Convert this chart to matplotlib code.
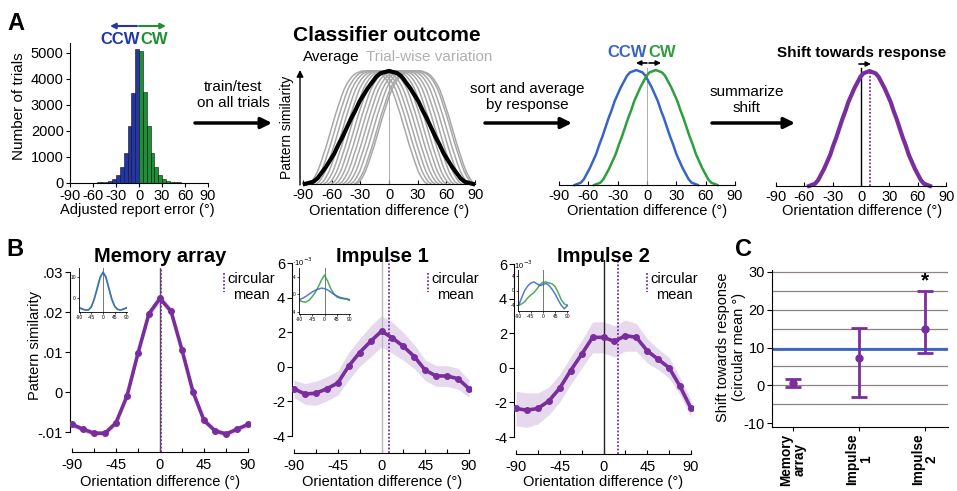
import numpy as np
import matplotlib
matplotlib.use("Agg")
import matplotlib.pyplot as plt
from matplotlib.ticker import FuncFormatter, MultipleLocator

plt.rcParams['font.family'] = ['Liberation Sans', 'DejaVu Sans']
plt.rcParams['axes.unicode_minus'] = False

# ---------------------------------------------------------------- data
# A: adjusted report error histogram (5-degree bins)
error_bin_edges = list(range(-90, 95, 5))
ccw_counts = [2, 3, 4, 5, 8, 10, 15, 20, 30, 50, 90, 170, 320, 620, 1150, 2200, 3450, 5150]
cw_counts = [5080, 3500, 2200, 1150, 620, 320, 170, 90, 50, 30, 20, 15, 10, 8, 5, 4, 3, 2]

# schematic tuning-curve profiles (centre -> edge, 0.05 steps of half-width)
bell_half = [1.00, 0.99, 0.98, 0.95, 0.90, 0.85, 0.79, 0.73, 0.65, 0.58, 0.50,
             0.42, 0.35, 0.27, 0.21, 0.15, 0.10, 0.05, 0.02, 0.01, 0.00]
trial_half = [1.00, 1.00, 1.00, 0.99, 0.98, 0.96, 0.93, 0.89, 0.84, 0.77, 0.69,
              0.61, 0.52, 0.43, 0.34, 0.26, 0.18, 0.11, 0.06, 0.02, 0.00]
average_halfwidth = 88
trial_halfwidth = 62
trial_centres = [-22, -18, -14, -10, -6, -2, 2, 6, 10, 14, 18, 22, 26, 28]
ccw_peak, cw_peak, sorted_halfwidth = -11, 9, 63
summary_peak, summary_halfwidth = 9, 64

# B: pattern similarity by orientation difference
orient_bins = [-90, -78.75, -67.5, -56.25, -45, -33.75, -22.5, -11.25, 0,
               11.25, 22.5, 33.75, 45, 56.25, 67.5, 78.75, 90]
mem_sim = [-0.0081, -0.0093, -0.0103, -0.0103, -0.0077, -0.0010, 0.0097, 0.0196, 0.0234,
           0.0202, 0.0105, 0.0000, -0.0071, -0.0097, -0.0105, -0.0093, -0.0081]
mem_sem = [0.0007, 0.0007, 0.0007, 0.0007, 0.0008, 0.0008, 0.0009, 0.0010, 0.0011,
           0.0010, 0.0009, 0.0008, 0.0008, 0.0007, 0.0007, 0.0007, 0.0007]
imp1_sim = [-1.27, -1.57, -1.53, -1.27, -0.94, 0.04, 0.82, 1.47, 2.06,
            1.67, 1.18, 0.59, -0.20, -0.53, -0.53, -0.69, -1.27]
imp1_sem = [0.5, 0.6, 0.7, 0.7, 0.7, 0.8, 0.8, 0.9, 0.9,
            0.9, 0.8, 0.7, 0.6, 0.6, 0.6, 0.6, 0.5]
imp2_sim = [-2.35, -2.45, -2.35, -1.92, -1.18, -0.16, 0.78, 1.76, 1.76,
            1.53, 1.86, 1.76, 0.98, 0.49, 0.00, -1.08, -2.35]
imp2_sem = [1.0, 1.0, 0.9, 0.8, 0.8, 0.8, 0.8, 0.9, 0.9,
            0.9, 0.9, 0.8, 0.7, 0.6, 0.6, 0.5, 0.5]

# B insets: curves split by CCW / CW responses
mem_inset_ccw = [-4.6, -5.2, -5.6, -5.5, -4.0, -0.6, 4.4, 9.6, 12.6, 10.4, 5.0, -0.2, -3.8, -5.2, -5.6, -5.2, -4.6]
mem_inset_cw = [-4.4, -5.0, -5.5, -5.6, -4.3, -0.2, 5.0, 10.2, 12.4, 9.8, 4.5, -0.6, -4.0, -5.3, -5.5, -5.0, -4.4]
imp1_inset_ccw = [-1.2, -0.9, -0.5, 0.0, 0.5, 0.9, 1.2, 1.4, 1.3, 1.0, 0.5, 0.0, -0.4, -0.7, -0.9, -1.0, -1.2]
imp1_inset_cw = [-1.4, -1.7, -1.8, -1.4, -0.6, 0.4, 1.7, 3.2, 4.4, 3.0, 1.3, 0.1, -0.6, -0.9, -1.0, -1.1, -1.4]
imp2_inset_ccw = [-4.0, -2.0, 0.0, 1.2, 2.0, 2.3, 1.8, 1.3, 1.6, 1.9, 1.3, 0.3, -1.0, -2.6, -4.0, -4.9, -4.0]
imp2_inset_cw = [-4.0, -3.6, -3.0, -2.0, -1.2, -0.6, 0.4, 1.6, 2.2, 2.3, 2.0, 1.8, 1.0, -0.6, -2.5, -3.6, -4.0]

# C: shift towards response (circular mean, degrees)
conditions = ['Memory\narray', 'Impulse\n1', 'Impulse\n2']
shift_mean = [0.7, 7.2, 15.0]
shift_low = [-0.4, -3.2, 8.5]
shift_high = [1.7, 15.2, 25.0]
behavioural_shift = 9.7

# ---------------------------------------------------------------- style
PURPLE = '#7a2e9e'
BLUE = '#3a63c8'
GREEN = '#2e9e3e'
HIST_BLUE = '#2236a8'
HIST_GREEN = '#1f8f33'
W, H = 957, 491

fig = plt.figure(figsize=(W / 100, H / 100), dpi=100)
fig.patch.set_facecolor('white')


def px_axes(x0, x1, y_top, y_bot):
    ax = fig.add_axes([x0 / W, 1 - y_bot / H, (x1 - x0) / W, (y_bot - y_top) / H])
    ax.patch.set_alpha(0)
    return ax


def full_profile(half):
    return np.array(half[::-1] + half[1:])


u_grid = np.linspace(-1, 1, 41)
bell = full_profile(bell_half)
trial_bell = full_profile(trial_half)


def only_bottom(ax):
    for s in ('left', 'right', 'top'):
        ax.spines[s].set_visible(False)
    ax.set_yticks([])
    ax.set_xlim(-92, 92)
    ax.set_ylim(0, 1.05)
    ax.spines['bottom'].set_bounds(-90, 90)
    ax.set_xticks([-90, -60, -30, 0, 30, 60, 90])
    ax.tick_params(axis='x', direction='in', length=3, width=0.8, labelsize=10.5, pad=3)


# ---------------------------------------------------------------- A: histogram
ax_h = px_axes(70, 208, 42.6, 183)
edges = np.array(error_bin_edges, dtype=float)
ax_h.bar(edges[:18], ccw_counts, width=5, align='edge', color=HIST_BLUE,
         edgecolor='#101010', linewidth=0.4)
ax_h.bar(edges[18:36], cw_counts, width=5, align='edge', color=HIST_GREEN,
         edgecolor='#101010', linewidth=0.4)
ax_h.set_xlim(-90, 90)
ax_h.set_ylim(0, 5400)
for s in ('right', 'top'):
    ax_h.spines[s].set_visible(False)
ax_h.set_xticks([-90, -60, -30, 0, 30, 60, 90])
ax_h.set_yticks(range(0, 5001, 1000))
ax_h.tick_params(length=3, width=0.8, labelsize=10.5, pad=1.5)

# ---------------------------------------------------------------- A: classifier outcome
ax_c = px_axes(301, 477, 65.3, 184)
for c in trial_centres:
    ax_c.plot(c + trial_halfwidth * u_grid, trial_bell, color='#a8a8a8', lw=1.1)
ax_c.axvline(0, ymax=1 / 1.05, color='#a0a0a0', lw=0.6)
ax_c.plot(average_halfwidth * u_grid, bell, color='black', lw=3, clip_on=False)
only_bottom(ax_c)

# ---------------------------------------------------------------- A: sorted by response
ax_s = px_axes(557, 737, 64.3, 185)
ax_s.axvline(0, ymax=1.02 / 1.05, color='#a0a0a0', lw=0.6)
ax_s.plot(ccw_peak + sorted_halfwidth * u_grid, bell, color=BLUE, lw=1.8, clip_on=False)
ax_s.plot(cw_peak + sorted_halfwidth * u_grid, bell, color=GREEN, lw=1.8, clip_on=False)
only_bottom(ax_s)

# ---------------------------------------------------------------- A: summary shift
ax_p = px_axes(774, 948, 65.3, 186)
ax_p.axvline(0, ymax=1.03 / 1.05, color='black', lw=1)
ax_p.axvline(summary_peak, ymax=1.0 / 1.05, color=PURPLE, lw=1.3, ls=(0, (1, 1)))
ax_p.plot(summary_peak + summary_halfwidth * u_grid, bell, color=PURPLE, lw=3, clip_on=False)
only_bottom(ax_p)


# ---------------------------------------------------------------- B panels
def tuning_panel(ax, sim, sem, mean_shift, zero_color, ylim, ybounds, yticks, fmt):
    sim = np.array(sim)
    sem = np.array(sem)
    ax.axvline(0, color=zero_color, lw=1)
    ax.fill_between(orient_bins, sim - sem, sim + sem, color=PURPLE, alpha=0.18, lw=0)
    ax.plot(orient_bins, sim, color=PURPLE, lw=2.6, marker='o', ms=4, zorder=3)
    ax.axvline(mean_shift, color=PURPLE, lw=1.3, ls=(0, (1, 1)), zorder=4)
    ax.set_xlim(-92, 92)
    ax.set_ylim(*ylim)
    for s in ('right', 'top'):
        ax.spines[s].set_visible(False)
    ax.spines['left'].set_bounds(*ybounds)
    ax.spines['bottom'].set_bounds(-90, 90)
    ax.set_xticks([-90, -45, 0, 45, 90])
    ax.xaxis.set_minor_locator(MultipleLocator(22.5))
    ax.set_yticks(yticks)
    ax.yaxis.set_major_formatter(FuncFormatter(fmt))
    ax.tick_params(axis='x', which='both', direction='in', length=3, width=0.8,
                   labelsize=10.5, pad=4)
    ax.tick_params(axis='y', length=3.5, width=0.8, labelsize=10.5, pad=1.5)


def dec_fmt(v, _):
    if abs(v) < 1e-12:
        return '0'
    return ('%.2f' % v).replace('0.', '.')


def int_fmt(v, _):
    return '%d' % round(v)


ax_m = px_axes(70, 250, 268, 452)
tuning_panel(ax_m, mem_sim, mem_sem, shift_mean[0], '#555555',
             (-0.015, 0.031), (-0.01, 0.03), [-0.01, 0, 0.01, 0.02, 0.03], dec_fmt)
ax_i1 = px_axes(292, 471, 258.7, 453.3)
tuning_panel(ax_i1, imp1_sim, imp1_sem, shift_mean[1], '#bbbbbb',
             (-5, 6.25), (-4, 6), [-4, -2, 0, 2, 4, 6], int_fmt)
ax_i2 = px_axes(514, 693, 259.7, 454.3)
tuning_panel(ax_i2, imp2_sim, imp2_sem, shift_mean[2], '#222222',
             (-5, 6.25), (-4, 6), [-4, -2, 0, 2, 4, 6], int_fmt)


def inset(x0, x1, y_top, y_bot, ccw, cw, ylim, yticks):
    ax = px_axes(x0, x1, y_top, y_bot)
    ax.axvline(0, color='#777777', lw=0.7)
    ax.plot(orient_bins, cw, color=GREEN, lw=1.1, alpha=0.85)
    ax.plot(orient_bins, ccw, color=BLUE, lw=1.1, alpha=0.85)
    ax.set_xlim(-92, 92)
    ax.set_ylim(*ylim)
    for s in ('right', 'top'):
        ax.spines[s].set_visible(False)
    for s in ('left', 'bottom'):
        ax.spines[s].set_linewidth(0.6)
    ax.set_xticks([-90, -45, 0, 45, 90])
    ax.set_yticks(yticks)
    ax.tick_params(length=1.5, width=0.5, labelsize=3.5, pad=0.8)
    return ax


inset(79, 127, 268, 312, mem_inset_ccw, mem_inset_cw, (-6.5, 14.5), [0, 10])
inset(299, 350, 268, 314, imp1_inset_ccw, imp1_inset_cw, (-4.5, 6), [-4, 0, 4])
inset(518, 568, 270, 311, imp2_inset_ccw, imp2_inset_cw, (-5.5, 5.5), [-4, 0, 4])

# ---------------------------------------------------------------- C
ax_C = px_axes(772, 948, 270.1, 426.8)
ax_C.set_xlim(-0.32, 2.35)
ax_C.set_ylim(-11, 30.5)
for yv in range(-5, 31, 5):
    ax_C.axhline(yv, color='#8c8282', lw=0.9, zorder=0)
ax_C.axhline(behavioural_shift, color=BLUE, lw=2, zorder=1)
xs = np.arange(len(conditions))
mean_arr = np.array(shift_mean)
ax_C.errorbar(xs, mean_arr, yerr=[mean_arr - np.array(shift_low), np.array(shift_high) - mean_arr],
              fmt='o', color=PURPLE, ms=5, lw=2, capsize=5.5, capthick=2, zorder=3)
ax_C.text(2, 27.6, '*', ha='center', va='center', fontsize=15, fontweight='bold')
for s in ('right', 'top'):
    ax_C.spines[s].set_visible(False)
ax_C.set_yticks([-10, 0, 10, 20, 30])
ax_C.set_xticks(xs)
ax_C.set_xticklabels(conditions, rotation=90, fontweight='bold', fontsize=9.8,
                     linespacing=1.0, va='top', ha='center')
ax_C.tick_params(axis='y', length=3.5, width=0.8, labelsize=10.5, pad=1.5)
ax_C.tick_params(axis='x', length=3, width=0.8, pad=2)

# ---------------------------------------------------------------- text and arrows
ov = fig.add_axes([0, 0, 1, 1])
ov.set_xlim(0, W)
ov.set_ylim(H, 0)
ov.axis('off')
ov.patch.set_alpha(0)


def txt(x, y, s, **kw):
    kw.setdefault('ha', 'center')
    kw.setdefault('va', 'center')
    ov.text(x, y, s, **kw)


def arrow(x0, y0, x1, y1, lw=2.5, scale=16):
    ov.annotate('', xy=(x1, y1), xytext=(x0, y0),
                arrowprops=dict(arrowstyle='-|>', color='black', lw=lw,
                                mutation_scale=scale, shrinkA=0, shrinkB=0))


for lab, x, y in (('A', 16, 23), ('B', 15, 249), ('C', 744, 249)):
    txt(x, y, lab, fontsize=17, fontweight='bold')

# histogram annotations
txt(120, 39, 'CCW', fontsize=12, fontweight='bold', color=HIST_BLUE)
txt(154, 39, 'CW', fontsize=12, fontweight='bold', color=HIST_GREEN)
ov.annotate('', xy=(110, 26), xytext=(137, 26),
            arrowprops=dict(arrowstyle='-|>', color=HIST_BLUE, lw=1.5, mutation_scale=8, shrinkA=0, shrinkB=0))
ov.annotate('', xy=(166, 26), xytext=(139, 26),
            arrowprops=dict(arrowstyle='-|>', color=HIST_GREEN, lw=1.5, mutation_scale=8, shrinkA=0, shrinkB=0))
txt(19, 106, 'Number of trials', fontsize=11, rotation=90)
txt(137, 210, 'Adjusted report error (°)', fontsize=10.5)

# flow between schematic panels
txt(233, 95, 'train/test\non all trials', fontsize=11, linespacing=1.1)
arrow(195, 123, 272, 123)
txt(527, 97, 'sort and average\nby response', fontsize=11, linespacing=1.1)
arrow(485, 123, 572, 123)
txt(747, 100, 'summarize\nshift', fontsize=11, linespacing=1.1)
arrow(712, 123, 795, 123)

# classifier outcome panel
txt(387, 35, 'Classifier outcome', fontsize=15, fontweight='bold')
txt(303, 57, 'Average', fontsize=11, ha='left')
txt(366, 57, 'Trial-wise variation', fontsize=11, ha='left', color='#b0b0b0')
ov.annotate('', xy=(300, 70), xytext=(300, 185),
            arrowprops=dict(arrowstyle='-|>', color='black', lw=1, mutation_scale=10, shrinkA=0, shrinkB=0))
txt(287, 127, 'Pattern similarity', fontsize=10, rotation=90)
txt(389, 211, 'Orientation difference (°)', fontsize=10.5)

# sorted panel
txt(647, 52, 'CCW', fontsize=12, fontweight='bold', color=BLUE, ha='right')
txt(648, 52, 'CW', fontsize=12, fontweight='bold', color=GREEN, ha='left')
arrow(647, 63, 636, 63, lw=1.2, scale=7)
arrow(649, 63, 661, 63, lw=1.2, scale=7)
txt(647, 211, 'Orientation difference (°)', fontsize=10.5)

# summary panel
txt(862, 53, 'Shift towards response', fontsize=11, fontweight='bold')
arrow(859, 64, 871, 64, lw=1.2, scale=7)
txt(862, 211, 'Orientation difference (°)', fontsize=10.5)

# B titles and labels
for x, title in ((160, 'Memory array'), (382, 'Impulse 1'), (603, 'Impulse 2')):
    txt(x, 257, title, fontsize=14.5, fontweight='bold')
for x in (160, 382, 603):
    txt(x, 482, 'Orientation difference (°)', fontsize=10.5)
txt(35, 345, 'Pattern similarity', fontsize=10.5, rotation=90)
for x, y in ((302, 262), (522, 265)):
    txt(x, y, '·10$^{-3}$', fontsize=5.5)
for x in (224, 428, 647):
    ov.plot([x, x], [273, 292], color=PURPLE, lw=1.3, ls=(0, (1, 1)))
    txt(x + 27, 287, 'circular\nmean', fontsize=10.5, linespacing=1.15)

# C label
txt(731, 347, 'Shift towards response\n(circular mean °)', fontsize=10.5, rotation=90,
    linespacing=1.2)

fig.savefig('out.png', dpi=100)
